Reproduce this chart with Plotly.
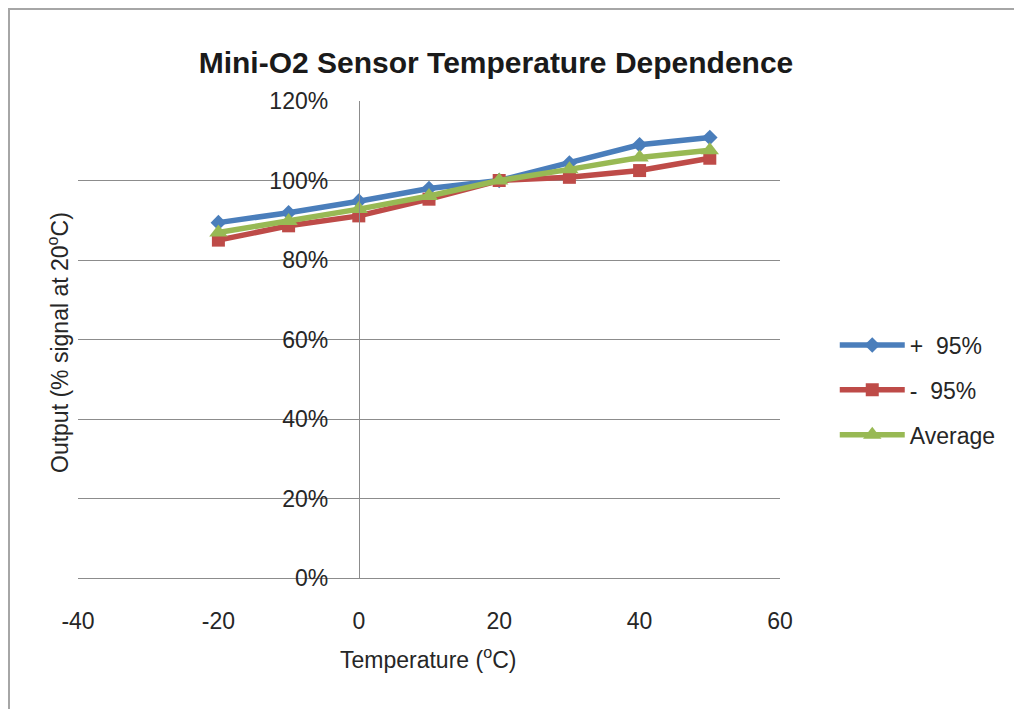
import plotly.graph_objects as go

temps = [-20, -10, 0, 10, 20, 30, 40, 50]
plus95 = [89.4, 91.9, 94.8, 98.0, 100.0, 104.4, 109.0, 110.8]
minus95 = [85.0, 88.6, 91.1, 95.3, 100.0, 100.8, 102.5, 105.6]
average = [86.9, 89.8, 92.8, 96.1, 100.0, 102.8, 105.8, 107.6]

x_ticks = [-40, -20, 0, 20, 40, 60]
x_tick_labels = ["-40", "-20", "0", "20", "40", "60"]

series = [
    ("+  95%", plus95, "#4A7EBB", "diamond", 12),
    ("-  95%", minus95, "#BE4B48", "square", 13),
    ("Average", average, "#98B954", "triangle-up", 16),
]

fig = go.Figure()
for name, vals, color, sym, size in series:
    fig.add_trace(go.Scatter(
        x=temps, y=[v / 100 for v in vals], name=name, mode="lines+markers",
        legendgroup=name,
        line=dict(color=color, width=5.5),
        marker=dict(symbol=sym, size=size, color=color),
    ))

font = "Liberation Sans, Arial, sans-serif"
W, H = 702, 477
fig.update_layout(
    width=1022, height=709,
    margin=dict(l=70, r=1022 - 70 - W, t=93, b=709 - 93 - H),
    paper_bgcolor="white", plot_bgcolor="white",
    font=dict(family=font, color="#262626"),
    title=dict(text="<b>Mini-O2 Sensor Temperature Dependence</b>",
               x=488 / 1022, xanchor="center", y=1 - 54 / 709, yanchor="middle",
               font=dict(size=30, color="#1a1a1a")),
    showlegend=True,
    legend=dict(x=1.078, xanchor="left", y=(578 - 390) / H, yanchor="middle",
                font=dict(size=23, color="#262626"), itemwidth=65,
                traceorder="grouped", tracegroupgap=12, bgcolor="rgba(0,0,0,0)"),
    xaxis=dict(range=[-40, 60], tickvals=x_ticks, ticktext=x_tick_labels,
               showgrid=False, zeroline=False,
               showline=True, linecolor="#8c8c8c", linewidth=1,
               ticks="", tickfont=dict(size=23, color="#262626"),
               ticklabelstandoff=22),
    yaxis=dict(range=[0, 1.2], dtick=0.2, tickformat=".0%", showgrid=True,
               gridcolor="#8c8c8c", gridwidth=1, zeroline=False,
               showline=True, linecolor="#8c8c8c", linewidth=1,
               anchor="free", position=0.4, ticks="", ticklabelstandoff=26,
               tickfont=dict(size=23, color="#262626")),
)
# axis titles
fig.add_annotation(text="Output (% signal at 20<sup>o</sup>C)", xref="paper", yref="paper",
                   x=(50 - 70) / W, y=(578 - 343) / H, textangle=-90, showarrow=False,
                   font=dict(size=23, color="#262626"), xanchor="center", yanchor="middle")
fig.add_annotation(text="Temperature (<sup>o</sup>C)", xref="paper", yref="paper",
                   x=(428 - 78) / W, y=(578 - 658) / H, showarrow=False,
                   font=dict(size=23, color="#262626"), xanchor="center", yanchor="middle")
# chart border
fig.add_shape(type="rect", xref="paper", yref="paper",
              x0=-69 / W, x1=1.5, y0=-0.5, y1=1 + 92 / H,
              line=dict(color="#a6a6a6", width=2), layer="below")

fig.write_html("out.html")
